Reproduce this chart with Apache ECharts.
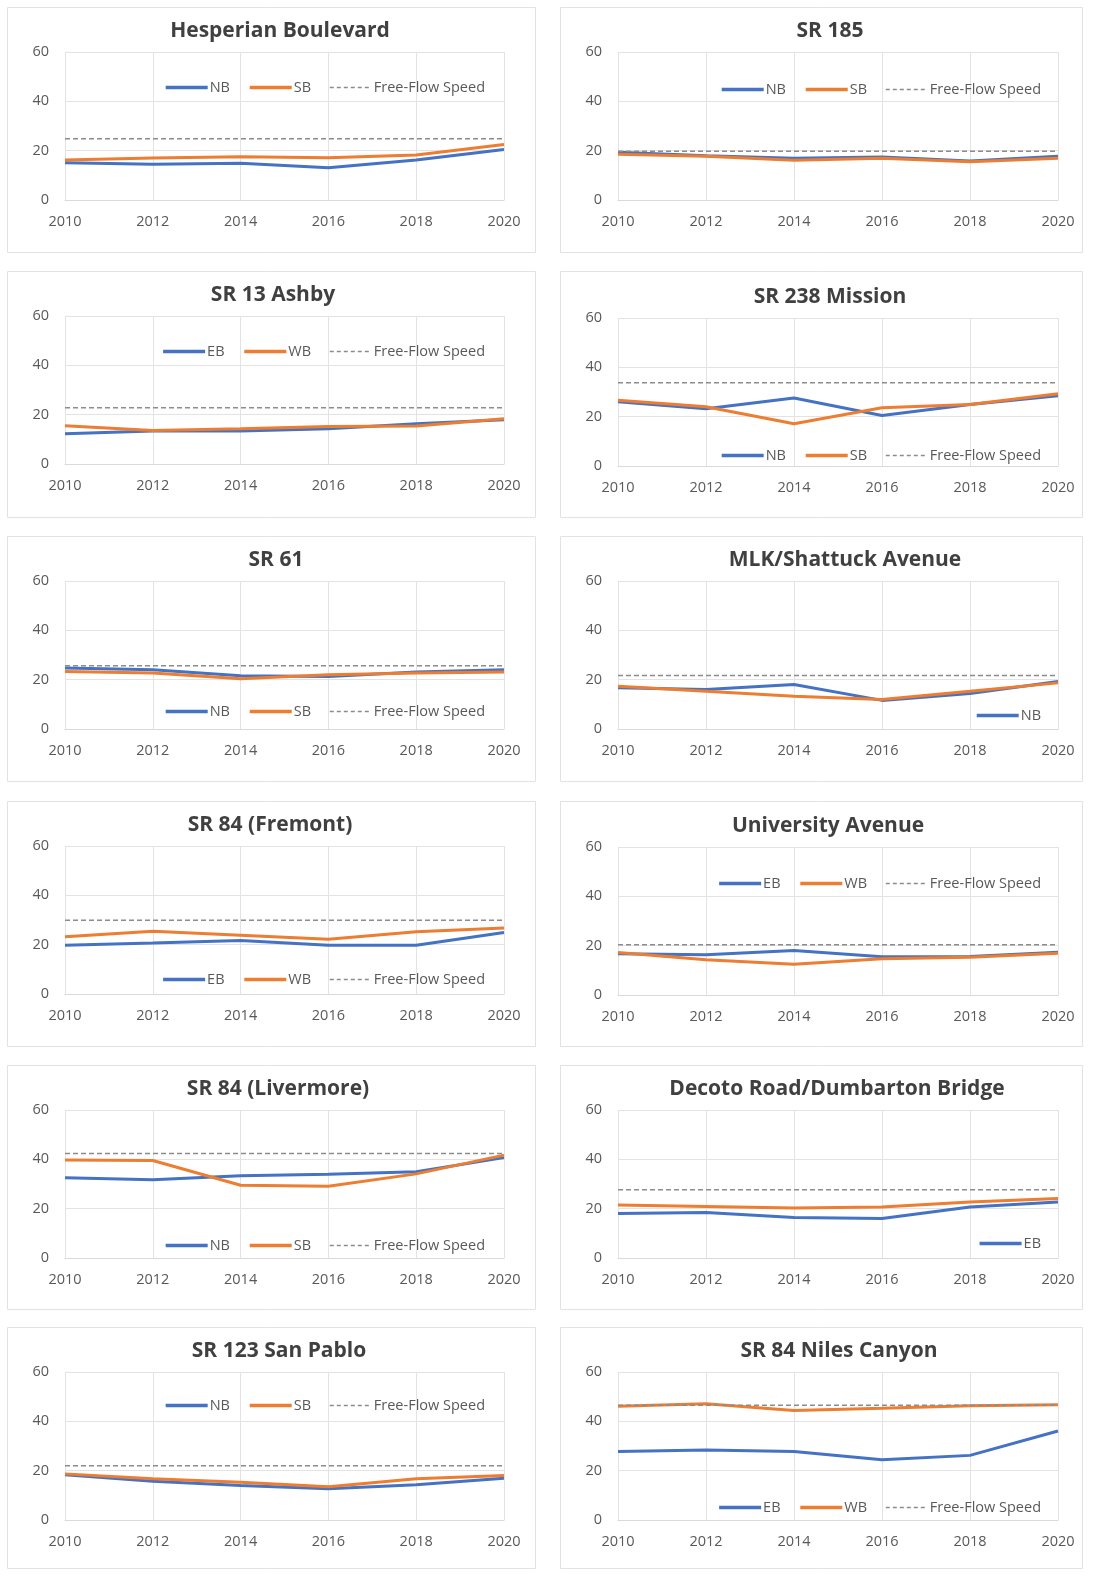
<!DOCTYPE html>
<html>
<head>
<meta charset="utf-8">
<style>
html,body{margin:0;padding:0;background:#fff;}
#c{width:1098px;height:1589px;}
</style>
<script src="https://cdn.jsdelivr.net/npm/echarts@6/dist/echarts.min.js"></script>
</head>
<body>
<div id="c"></div>
<script>
// ---------- DATA ----------
const years = ['2010', '2012', '2014', '2016', '2018', '2020'];
const yTicks = [0, 20, 40, 60];

const titles = ['Hesperian Boulevard', 'SR 185', 'SR 13 Ashby', 'SR 238 Mission',
  'SR 61', 'MLK/Shattuck Avenue', 'SR 84 (Fremont)', 'University Avenue',
  'SR 84 (Livermore)', 'Decoto Road/Dumbarton Bridge', 'SR 123 San Pablo', 'SR 84 Niles Canyon'];

const dirNames = [['NB', 'SB'], ['NB', 'SB'], ['EB', 'WB'], ['NB', 'SB'],
  ['NB', 'SB'], ['NB', 'SB'], ['EB', 'WB'], ['EB', 'WB'],
  ['NB', 'SB'], ['EB', 'WB'], ['NB', 'SB'], ['EB', 'WB']];

const legendItems = [['NB', 'SB', 'Free-Flow Speed'], ['NB', 'SB', 'Free-Flow Speed'],
  ['EB', 'WB', 'Free-Flow Speed'], ['NB', 'SB', 'Free-Flow Speed'],
  ['NB', 'SB', 'Free-Flow Speed'], ['NB'],
  ['EB', 'WB', 'Free-Flow Speed'], ['EB', 'WB', 'Free-Flow Speed'],
  ['NB', 'SB', 'Free-Flow Speed'], ['EB'],
  ['NB', 'SB', 'Free-Flow Speed'], ['EB', 'WB', 'Free-Flow Speed']];

const hesperianNB = [15.1, 14.5, 14.9, 13.1, 16.2, 20.5];
const hesperianSB = [16.2, 17.0, 17.5, 17.1, 18.2, 22.5];
const hesperianFF = [24.8, 24.8, 24.8, 24.8, 24.8, 24.8];

const sr185NB = [19.4, 17.9, 16.9, 17.4, 15.8, 17.7];
const sr185SB = [18.5, 17.7, 16.1, 16.9, 15.5, 16.9];
const sr185FF = [19.8, 19.8, 19.8, 19.8, 19.8, 19.8];

const sr13EB = [12.3, 13.4, 13.4, 14.3, 16.3, 17.9];
const sr13WB = [15.5, 13.6, 14.3, 15.2, 15.4, 18.3];
const sr13FF = [22.8, 22.8, 22.8, 22.8, 22.8, 22.8];

const sr238NB = [26.0, 23.2, 27.6, 20.5, 24.9, 28.5];
const sr238SB = [26.7, 24.0, 17.1, 23.6, 24.9, 29.3];
const sr238FF = [33.8, 33.8, 33.8, 33.8, 33.8, 33.8];

const sr61NB = [24.7, 24.0, 21.6, 21.3, 23.1, 24.0];
const sr61SB = [23.3, 22.7, 20.4, 22.0, 22.7, 23.1];
const sr61FF = [25.6, 25.6, 25.6, 25.6, 25.6, 25.6];

const mlkNB = [16.7, 16.0, 18.0, 11.6, 14.4, 19.3];
const mlkSB = [17.3, 15.3, 13.3, 12.0, 15.3, 18.7];
const mlkFF = [21.7, 21.7, 21.7, 21.7, 21.7, 21.7];

const fremontEB = [19.8, 20.7, 21.7, 19.8, 19.8, 24.9];
const fremontWB = [23.2, 25.4, 23.8, 22.2, 25.2, 26.8];
const fremontFF = [29.9, 29.9, 29.9, 29.9, 29.9, 29.9];

const universityEB = [16.7, 16.3, 18.0, 15.5, 15.6, 17.3];
const universityWB = [17.2, 14.3, 12.5, 14.7, 15.3, 16.9];
const universityFF = [20.4, 20.4, 20.4, 20.4, 20.4, 20.4];

const livermoreNB = [32.5, 31.7, 33.3, 34.0, 35.0, 40.7];
const livermoreSB = [39.7, 39.5, 29.5, 29.1, 34.1, 41.7];
const livermoreFF = [42.4, 42.4, 42.4, 42.4, 42.4, 42.4];

const decotoEB = [18.0, 18.4, 16.4, 16.0, 20.7, 22.7];
const decotoWB = [21.5, 20.9, 20.3, 20.7, 22.7, 24.1];
const decotoFF = [27.7, 27.7, 27.7, 27.7, 27.7, 27.7];

const sanPabloNB = [18.3, 15.7, 14.0, 12.7, 14.3, 16.9];
const sanPabloSB = [18.7, 16.7, 15.3, 13.5, 16.7, 18.0];
const sanPabloFF = [22.0, 22.0, 22.0, 22.0, 22.0, 22.0];

const nilesEB = [27.8, 28.4, 27.8, 24.4, 26.2, 36.1];
const nilesWB = [46.1, 47.1, 44.4, 45.3, 46.3, 46.7];
const nilesFF = [46.5, 46.5, 46.5, 46.5, 46.5, 46.5];

const panelData = [
  [hesperianNB, hesperianSB, hesperianFF], [sr185NB, sr185SB, sr185FF],
  [sr13EB, sr13WB, sr13FF], [sr238NB, sr238SB, sr238FF],
  [sr61NB, sr61SB, sr61FF], [mlkNB, mlkSB, mlkFF],
  [fremontEB, fremontWB, fremontFF], [universityEB, universityWB, universityFF],
  [livermoreNB, livermoreSB, livermoreFF], [decotoEB, decotoWB, decotoFF],
  [sanPabloNB, sanPabloSB, sanPabloFF], [nilesEB, nilesWB, nilesFF]
];

// ---------- LAYOUT ----------
const colLeft = [7, 560];
const colWidth = [528, 522];
const rowTop = [7, 271, 536, 801, 1065, 1327];
const panelH = [245, 246, 245, 245, 244, 241];
const plotDy = [0, 0, 0, 2, 0, 0, 0, 1, 0, 0, 0, 0];
const legendCY = [84, 86, 348, 452, 708, 712, 976, 880, 1242, 1240, 1402, 1504];
const legendRightEdge = [490, 1046];
const titleDx = [4, 4, -3, 4, 0, 19, -6, 2, 2, 11, 3, 13];

const BLUE = '#4472C4', ORANGE = '#ED7D31', GRAY = '#8c8c8c';
const FONT = 'Open Sans';

const chart = echarts.init(document.getElementById('c'), null, {renderer: 'canvas'});

const grids = [], xAxes = [], yAxes = [], series = [], titleArr = [], legends = [], graphics = [];

function legendEntry(name) {
  const isFF = name === 'Free-Flow Speed';
  return {
    name: name,
    itemStyle: {opacity: 0},
    lineStyle: isFF ? {width: 1.5, type: [4, 3]} : {width: 3.5}
  };
}

for (let i = 0; i < 12; i++) {
  const col = i % 2, row = Math.floor(i / 2);
  const pl = colLeft[col], pw = colWidth[col], pt = rowTop[row];
  graphics.push({
    type: 'rect', silent: true, z: -10,
    shape: {x: pl + 0.5, y: pt + 0.5, width: pw, height: panelH[row]},
    style: {fill: '#fff', stroke: '#e2e2e2', lineWidth: 1}
  });
  grids.push({left: pl + 58, top: pt + 45 + plotDy[i], width: col === 0 ? 439 : 440, height: 148, containLabel: false});
  titleArr.push({
    text: titles[i], left: pl + pw / 2 + titleDx[i], top: pt + 9 + plotDy[i], textAlign: 'center',
    textStyle: {fontFamily: FONT, fontWeight: 'bold', fontSize: 21, color: '#404040'}
  });
  xAxes.push({
    gridIndex: i, type: 'category', data: years, boundaryGap: false,
    axisLine: {show: true, lineStyle: {color: '#d9d9d9'}}, axisTick: {show: false},
    axisLabel: {color: '#595959', fontFamily: FONT, fontSize: 14.5, margin: 14},
    splitLine: {show: true, lineStyle: {color: '#e3e3e3'}}
  });
  yAxes.push({
    gridIndex: i, type: 'value', min: yTicks[0], max: yTicks[yTicks.length - 1], interval: 20,
    axisLine: {show: false}, axisTick: {show: false},
    axisLabel: {color: '#595959', fontFamily: FONT, fontSize: 14.5, margin: 16},
    splitLine: {show: true, lineStyle: {color: '#e3e3e3'}}
  });
  const d = panelData[i];
  series.push({
    name: dirNames[i][0], type: 'line', xAxisIndex: i, yAxisIndex: i, data: d[0],
    symbol: 'none', smooth: false, lineStyle: {color: BLUE, width: 3}, itemStyle: {color: BLUE}, z: 2
  });
  series.push({
    name: dirNames[i][1], type: 'line', xAxisIndex: i, yAxisIndex: i, data: d[1],
    symbol: 'none', lineStyle: {color: ORANGE, width: 3}, itemStyle: {color: ORANGE}, z: 3
  });
  series.push({
    name: 'Free-Flow Speed', type: 'line', xAxisIndex: i, yAxisIndex: i, data: d[2],
    symbol: 'none', lineStyle: {color: GRAY, width: 1.5, type: [5, 3]}, itemStyle: {color: GRAY}, z: 4
  });
  legends.push({
    data: legendItems[i].map(legendEntry), right: 1098 - legendRightEdge[col], top: legendCY[i] - 9,
    orient: 'horizontal', itemWidth: 42, itemHeight: 14, itemGap: 18,
    selectedMode: false,
    textStyle: {fontFamily: FONT, fontSize: 14.5, color: '#595959', padding: [0, 0, 0, -3]}
  });
}

chart.setOption({
  backgroundColor: '#ffffff',
  animation: false,
  title: titleArr,
  legend: legends,
  grid: grids,
  xAxis: xAxes,
  yAxis: yAxes,
  series: series,
  graphic: graphics
});
</script>
</body>
</html>
